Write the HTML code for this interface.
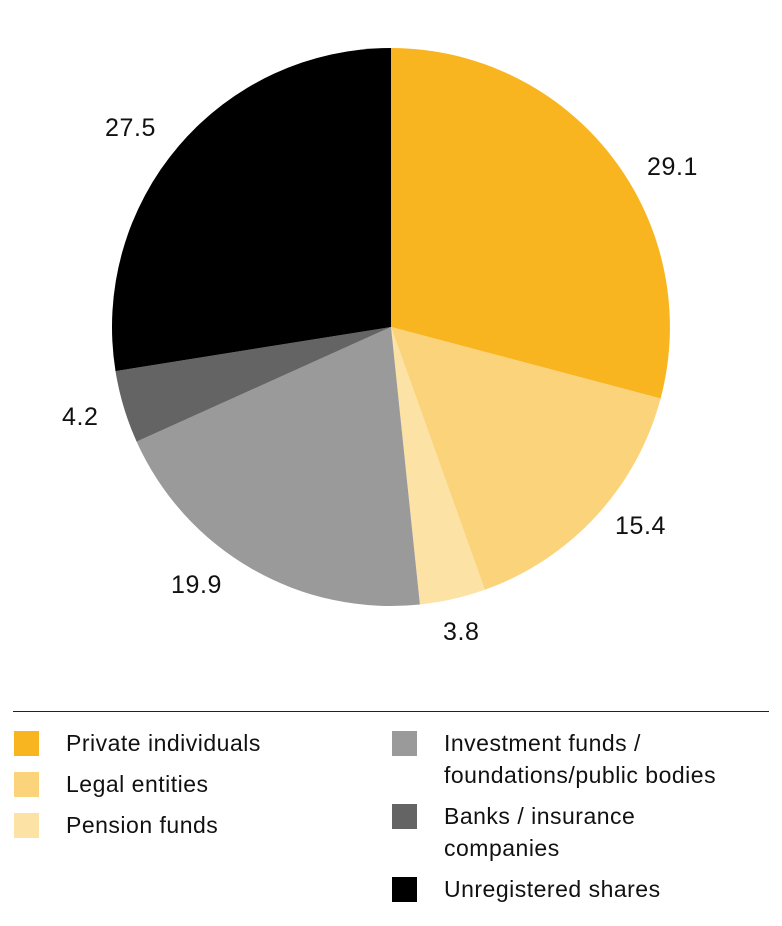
<!DOCTYPE html>
<html><head><style>
body{margin:0;background:#fff;width:782px;height:926px;overflow:hidden;font-family:"Liberation Sans",sans-serif;color:#111}
.lab{position:absolute;font-size:25px;letter-spacing:0.6px}
.sq{position:absolute;width:25px;height:25px}
.lt{position:absolute;font-size:23px;line-height:32px;letter-spacing:0.5px;white-space:nowrap}
</style></head><body>
<svg width="782" height="926" style="position:absolute;left:0;top:0">
<path d="M391,327 L391,48 A279,279 0 0 1 660.6,398.5 Z" fill="#f9b520"/>
<path d="M391,327 L660.6,398.5 A279,279 0 0 1 484.8,589.8 Z" fill="#fbd37b"/>
<path d="M391,327 L484.8,589.8 A279,279 0 0 1 419.9,604.5 Z" fill="#fde2a5"/>
<path d="M391,327 L419.9,604.5 A279,279 0 0 1 136.6,441.6 Z" fill="#9a9a9a"/>
<path d="M391,327 L136.6,441.6 A279,279 0 0 1 115.5,371.1 Z" fill="#646464"/>
<path d="M391,327 L115.5,371.1 A279,279 0 0 1 391,48 Z" fill="#000"/>
<line x1="13" y1="711.5" x2="769" y2="711.5" stroke="#222" stroke-width="1"/>
</svg>
<div class="lab" style="left:647px;top:153px">29.1</div>
<div class="lab" style="left:105px;top:114px">27.5</div>
<div class="lab" style="left:62px;top:403px">4.2</div>
<div class="lab" style="left:615px;top:512px">15.4</div>
<div class="lab" style="left:171px;top:571px">19.9</div>
<div class="lab" style="left:443px;top:618px">3.8</div>
<div class="sq" style="left:14px;top:731px;background:#f9b520"></div>
<div class="lt" style="left:66px;top:727px">Private individuals</div>
<div class="sq" style="left:14px;top:772px;background:#fbd37b"></div>
<div class="lt" style="left:66px;top:768px">Legal entities</div>
<div class="sq" style="left:14px;top:813px;background:#fde2a5"></div>
<div class="lt" style="left:66px;top:809px">Pension funds</div>
<div class="sq" style="left:392px;top:731px;background:#9a9a9a"></div>
<div class="lt" style="left:444px;top:727px">Investment funds /<br>foundations/public bodies</div>
<div class="sq" style="left:392px;top:804px;background:#646464"></div>
<div class="lt" style="left:444px;top:800px">Banks / insurance<br>companies</div>
<div class="sq" style="left:392px;top:877px;background:#000"></div>
<div class="lt" style="left:444px;top:873px">Unregistered shares</div>
</body></html>
